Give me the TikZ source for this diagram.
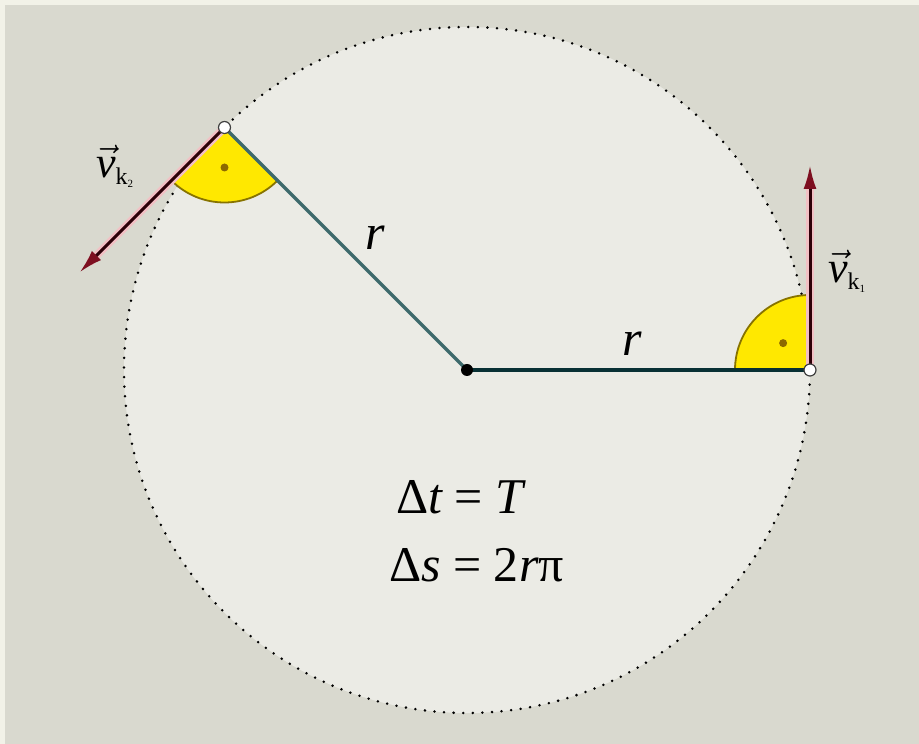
\RequirePackage{fix-cm}
\documentclass[tikz,border=0pt]{standalone}
\usepackage{fontspec}
\setmainfont{Liberation Serif}
\usetikzlibrary{arrows.meta}
\definecolor{bgcol}{RGB}{217,217,207}
\definecolor{edgecol}{RGB}{242,242,232}
\definecolor{circfill}{RGB}{235,235,229}
\definecolor{radA}{RGB}{8,48,52}
\definecolor{radB}{RGB}{62,106,108}
\definecolor{shaft}{RGB}{45,0,8}
\definecolor{vecred}{RGB}{125,15,32}
\definecolor{halocol}{RGB}{242,192,196}
\definecolor{yel}{RGB}{255,232,0}
\definecolor{yelline}{RGB}{135,115,0}
\definecolor{yeldot}{RGB}{140,105,0}
\newcommand\myvlab[1]{$\vec{\mbox{\itshape v}}$\raisebox{-7pt}{\fontsize{24}{24}\selectfont k\raisebox{-3pt}{\fontsize{11}{11}\selectfont #1}}}
\begin{document}
\begin{tikzpicture}[x=1pt,y=1pt,
  sector/.style={fill=yel,draw=yelline,line width=1.8pt},
  sectordot/.style={fill=yeldot},
  radiusA/.style={draw=radA,line width=3.6pt},
  radiusB/.style={draw=radB,line width=3.2pt},
  vechalo/.style={draw=halocol,line width=8pt,shorten >=14pt},
  vecline/.style={draw=shaft,line width=3pt,-{Latex[length=24pt,width=13pt,color=vecred,fill=vecred]}},
  orbit/.style={draw=black,line width=2.8pt,line cap=round,dash pattern=on 0pt off 9.6pt},
  openpt/.style={fill=white,draw=black!75,line width=1.2pt},
  bigtxt/.style={inner sep=0pt,font=\fontsize{50}{58}\selectfont},
  vtxt/.style={inner sep=0pt,font=\fontsize{44}{50}\selectfont}]
\useasboundingbox (0,0) rectangle (919,744);
\fill[bgcol] (0,0) rectangle (919,744);
\fill[edgecol] (0,0) rectangle (5,744);
\fill[edgecol] (0,739) rectangle (919,744);
\coordinate (O) at (467,374);
\coordinate (P1) at (810,374);
\coordinate (P2) at (224.5,616.5);
\coordinate (T1) at (810,579);
\coordinate (T2) at (79.5,471.5);
\fill[circfill] (O) circle[radius=343];
\draw[orbit] (O) circle[radius=343];
\filldraw[sector] (P1) -- ++(90:75) arc[start angle=90,end angle=180,radius=75] -- cycle;
\filldraw[sector] (P2) -- ++(225:75) arc[start angle=225,end angle=315,radius=75] -- cycle;
\fill[sectordot] (P1) ++(135:38) circle[radius=4];
\fill[sectordot] (P2) ++(270:40) circle[radius=4];
\draw[radiusA] (O) -- (P1);
\draw[radiusB] (O) -- (P2);
\draw[vechalo] (P1) -- (T1);
\draw[vechalo] (P2) -- (T2);
\draw[vecline] (P1) -- (T1);
\draw[vecline] (P2) -- (T2);
\fill[black] (O) circle[radius=6];
\filldraw[openpt] (P1) circle[radius=6];
\filldraw[openpt] (P2) circle[radius=6];
\node[bigtxt] (r1) at (375,506) {\itshape r};
\node[bigtxt] (r2) at (632,400) {\itshape r};
\node[vtxt,anchor=base west] (vk1) at (828,461) {\myvlab{1}};
\node[vtxt,anchor=base west] (vk2) at (96,566) {\myvlab{2}};
\node[bigtxt,anchor=base west] (dt) at (396,230) {Δ{\itshape t} = {\itshape T}};
\node[bigtxt,anchor=base west] (ds) at (389,162) {Δ{\itshape s} = 2{\itshape r}π};
\end{tikzpicture}
\end{document}
